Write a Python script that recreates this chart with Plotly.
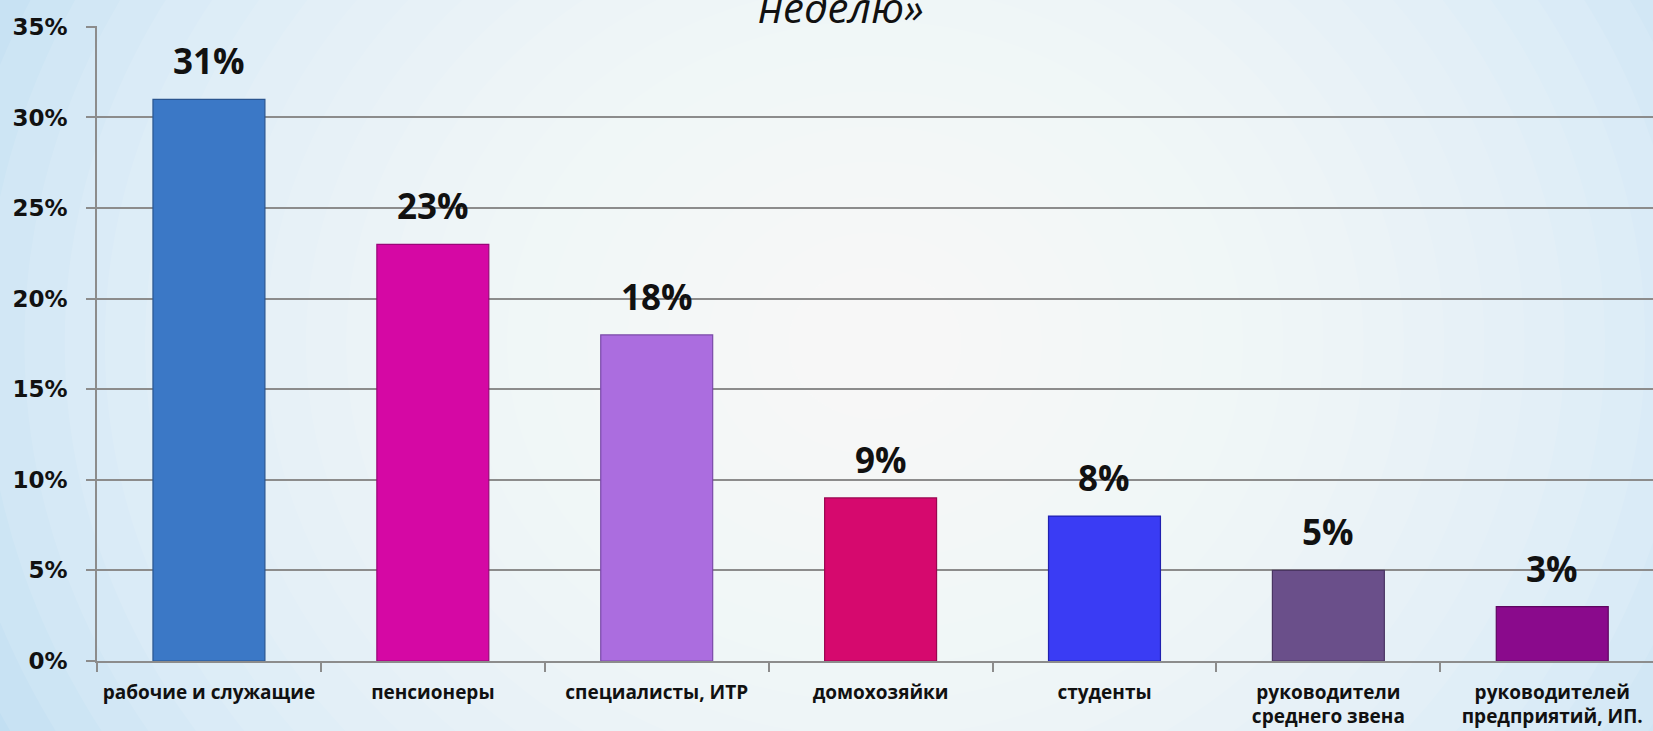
import plotly.graph_objects as go

categories = ["рабочие и служащие", "пенсионеры", "специалисты, ИТР", "домохозяйки",
              "студенты", "руководители<br>среднего звена", "руководителей<br>предприятий, ИП."]
values = [0.31, 0.23, 0.18, 0.09, 0.08, 0.05, 0.03]
colors = ["#3b78c6", "#d508a4", "#ab6ddf", "#d6096e", "#3a3cf4", "#6a4f8a", "#8a0a8c"]
edge_colors = ["#2a5590", "#9a0678", "#7a4aa8", "#9a0650", "#2020b0", "#4a3562", "#5e0660"]
title_tail = "неделю»"
y_ticks = [0, 0.05, 0.10, 0.15, 0.20, 0.25, 0.30, 0.35]
y_tick_text = ["0%", "5%", "10%", "15%", "20%", "25%", "30%", "35%"]

fig = go.Figure()
fig.add_trace(go.Bar(
    x=categories, y=values,
    marker=dict(color=colors, line=dict(color=edge_colors, width=1.2)),
    width=0.5, hoverinfo="skip",
))

for c, v in zip(categories, values):
    fig.add_annotation(x=c, y=v, xref="x", yref="y", text=f"{round(v*100)}%",
                       showarrow=False, yanchor="bottom", yshift=13,
                       font=dict(family="Open Sans", size=35, color="#111111", weight="bold"))

# background radial glow (decoration)
shapes = []
n = 24
for k in range(n):
    rx = 0.62 * (1 - k / n) + 0.03
    ry = rx * 1653 / 731 * 0.95
    shapes.append(dict(type="circle", xref="paper", yref="paper", layer="below",
                       x0=0.5 - rx, x1=0.5 + rx, y0=0.5 - ry, y1=0.5 + ry,
                       fillcolor="rgba(255,255,255,0.10)", line=dict(width=0)))

fig.add_annotation(x=0.478, y=1, xref="paper", yref="paper", text=title_tail,
                   showarrow=False, yanchor="bottom", yshift=-11,
                   font=dict(family="Open Sans", size=42, color="#111111", style="italic"))

fig.update_layout(
    width=1653, height=731,
    margin=dict(l=97, r=0, t=26, b=70),
    paper_bgcolor="#bcdcf1",
    plot_bgcolor="rgba(0,0,0,0)",
    showlegend=False,
    shapes=shapes,
    bargap=0.5,
)
fig.update_xaxes(
    type="category", range=[-0.5, 6.45],
    ticks="outside", tickson="boundaries", ticklen=9,
    tickcolor="#8c8c8c", tickwidth=1.5, showline=True, linecolor="#8c8c8c", linewidth=1.5,
    showgrid=False, zeroline=False, ticklabelstandoff=13,
    tickfont=dict(family="Open Sans", size=19, color="#111111", weight="bold"),
)
fig.update_yaxes(
    range=[0, 0.3505], tickmode="array", tickvals=y_ticks, ticktext=y_tick_text,
    ticks="outside", ticklen=9, tickcolor="#8c8c8c", tickwidth=1.5,
    showline=True, linecolor="#8c8c8c", linewidth=1.5, ticklabelstandoff=14,
    showgrid=True, gridcolor="#8c8c8c", gridwidth=1.5, zeroline=False,
    tickfont=dict(family="DejaVu Sans", size=23, color="#111111", weight="bold"),
)

fig.write_html("out.html", config={"displayModeBar": False},
               post_script="document.body.style.margin='0';document.body.style.overflow='hidden';")
